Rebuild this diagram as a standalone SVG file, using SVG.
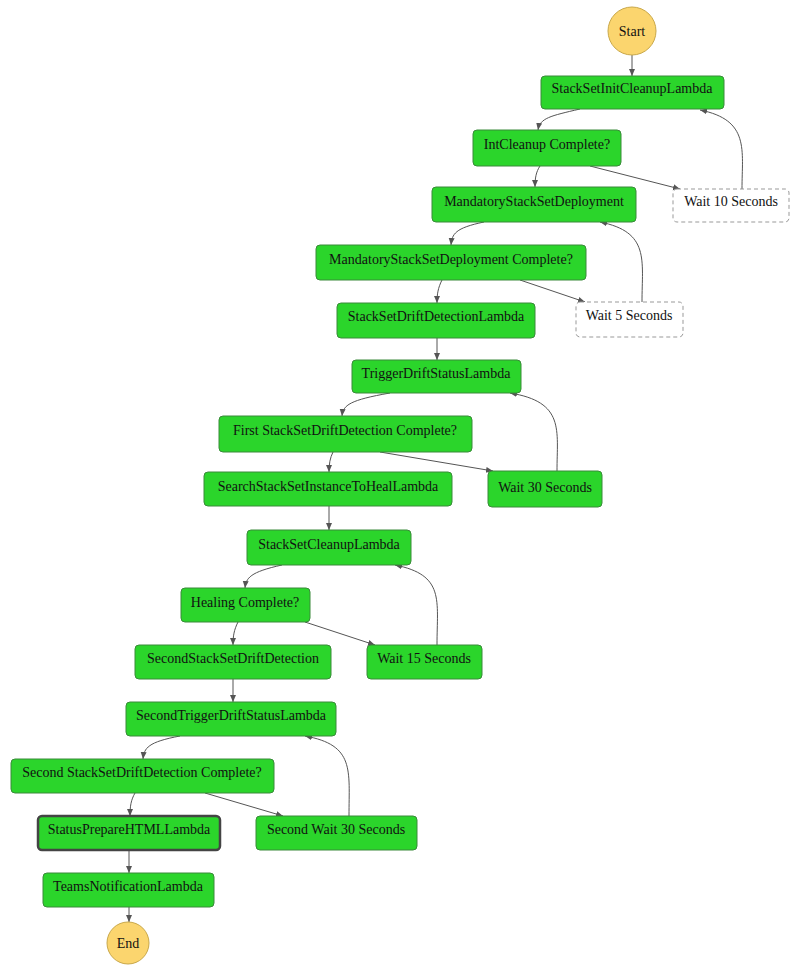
<svg xmlns="http://www.w3.org/2000/svg" width="800" height="980" viewBox="0 0 800 980">
<style>
.n{fill:#2bd52b;stroke:#3a8a3a;stroke-width:1}
.w{fill:#fff;stroke:#999;stroke-width:1;stroke-dasharray:4,3}
.c{fill:#fbd56e;stroke:#c9a84a;stroke-width:1}
.b{stroke:#444;stroke-width:2.5}
text{font-family:"Liberation Serif","Times New Roman",serif;font-size:14px;fill:#111;text-anchor:middle}
.e{fill:none;stroke:#555;stroke-width:1;marker-end:url(#a)}
</style>
<defs><marker id="a" markerWidth="8" markerHeight="8" refX="7" refY="4" orient="auto" markerUnits="userSpaceOnUse"><path d="M0,1 L7,4 L0,7z" fill="#555"/></marker></defs>
<rect width="800" height="980" fill="#fff"/>
<g id="edges">
<path class="e" d="M632,55 V76"/>
<path class="e" d="M580,109 C550,116 540,118 538,130"/>
<path class="e" d="M590,166 L680,189"/>
<path class="e" d="M742,189 C742,150 750,120 700,110"/>
<path class="e" d="M540,166 C536,172 535,178 535,187"/>
<path class="e" d="M484,222 C455,228 452,234 451,245"/>
<path class="e" d="M520,280 L585,302"/>
<path class="e" d="M642,302 C642,260 650,232 600,222"/>
<path class="e" d="M442,280 C438,288 437,294 437,303"/>
<path class="e" d="M437,338 V360"/>
<path class="e" d="M390,393 C350,400 343,405 342,416"/>
<path class="e" d="M380,452 L493,471"/>
<path class="e" d="M557,471 C557,430 565,402 510,393"/>
<path class="e" d="M333,452 C330,458 329,464 329,472"/>
<path class="e" d="M329,506 V530"/>
<path class="e" d="M282,565 C250,572 246,578 245,588"/>
<path class="e" d="M305,622 L375,645"/>
<path class="e" d="M437,645 C437,600 445,575 395,565"/>
<path class="e" d="M238,622 C234,630 233,636 233,645"/>
<path class="e" d="M233,679 V702"/>
<path class="e" d="M180,736 C148,742 144,748 143,759"/>
<path class="e" d="M205,793 L283,816"/>
<path class="e" d="M349,816 C349,770 355,745 305,736"/>
<path class="e" d="M135,793 C131,800 130,806 130,816"/>
<path class="e" d="M129,850 V873"/>
<path class="e" d="M129,907 V922"/>
</g>
<g id="start"><circle class="c" cx="632" cy="31" r="24"/><text x="632" y="36">Start</text></g>
<g id="n1"><rect class="n" x="541" y="76" width="183" height="33" rx="4"/><text x="632" y="93">StackSetInitCleanupLambda</text></g>
<g id="n2"><rect class="n" x="473" y="130" width="148" height="36" rx="4"/><text x="547" y="149">IntCleanup Complete?</text></g>
<g id="w10"><rect class="w" x="673" y="189" width="116" height="33" rx="4"/><text x="731" y="206">Wait 10 Seconds</text></g>
<g id="n3"><rect class="n" x="432" y="187" width="204" height="35" rx="4"/><text x="534" y="206">MandatoryStackSetDeployment</text></g>
<g id="n4"><rect class="n" x="316" y="245" width="270" height="35" rx="4"/><text x="451" y="264">MandatoryStackSetDeployment Complete?</text></g>
<g id="w5"><rect class="w" x="576" y="302" width="107" height="35" rx="4"/><text x="629" y="320">Wait 5 Seconds</text></g>
<g id="n5"><rect class="n" x="337" y="303" width="198" height="35" rx="4"/><text x="436" y="321">StackSetDriftDetectionLambda</text></g>
<g id="n6"><rect class="n" x="352" y="360" width="169" height="33" rx="4"/><text x="436" y="378">TriggerDriftStatusLambda</text></g>
<g id="n7"><rect class="n" x="219" y="416" width="253" height="36" rx="4"/><text x="345" y="435">First StackSetDriftDetection Complete?</text></g>
<g id="w30"><rect class="n" x="488" y="471" width="114" height="36" rx="4"/><text x="545" y="492">Wait 30 Seconds</text></g>
<g id="n8"><rect class="n" x="204" y="472" width="248" height="34" rx="4"/><text x="328" y="491">SearchStackSetInstanceToHealLambda</text></g>
<g id="n9"><rect class="n" x="247" y="530" width="164" height="35" rx="4"/><text x="329" y="549">StackSetCleanupLambda</text></g>
<g id="n10"><rect class="n" x="181" y="588" width="129" height="34" rx="4"/><text x="245" y="607">Healing Complete?</text></g>
<g id="n11"><rect class="n" x="135" y="645" width="196" height="34" rx="4"/><text x="233" y="663">SecondStackSetDriftDetection</text></g>
<g id="w15"><rect class="n" x="367" y="645" width="115" height="34" rx="4"/><text x="424" y="663">Wait 15 Seconds</text></g>
<g id="n12"><rect class="n" x="126" y="702" width="210" height="34" rx="4"/><text x="231" y="720">SecondTriggerDriftStatusLambda</text></g>
<g id="n13"><rect class="n" x="11" y="759" width="263" height="34" rx="4"/><text x="142" y="777">Second StackSetDriftDetection Complete?</text></g>
<g id="n14"><rect class="n b" x="38" y="816" width="182" height="34" rx="4"/><text x="129" y="834">StatusPrepareHTMLLambda</text></g>
<g id="w2"><rect class="n" x="256" y="816" width="161" height="34" rx="4"/><text x="336" y="834">Second Wait 30 Seconds</text></g>
<g id="n15"><rect class="n" x="43" y="873" width="171" height="34" rx="4"/><text x="128" y="891">TeamsNotificationLambda</text></g>
<g id="end"><circle class="c" cx="128" cy="943" r="21"/><text x="128" y="948">End</text></g>
</svg>
